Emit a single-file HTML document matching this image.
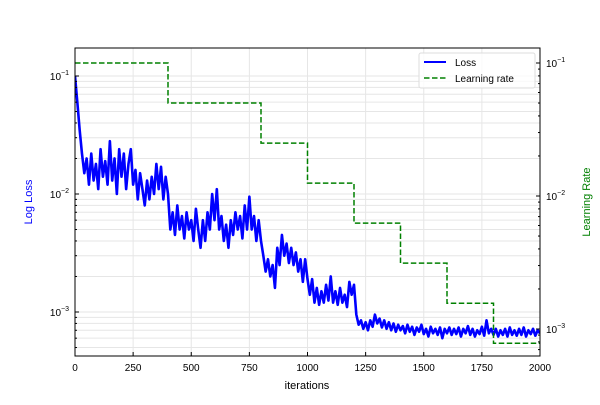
<!DOCTYPE html>
<html><head><meta charset="utf-8"><style>
body{margin:0;background:#fff;}
svg{font-family:"Liberation Sans","DejaVu Sans",sans-serif;}
</style></head><body>
<svg id="chart" width="600" height="400"></svg>
<script>
const iters=[];for(let i=0;i<=2000;i+=10)iters.push(i);
const lossE3=[100,60,35,22,15,20,12,22,13,18,11,24,14,19,12,28,13,20,10,24,14,
22,11,18,24,12,16,9,15,11,8,13,9,14,10,18,11,17,9,14,10,
5,7,4.5,8,5,6.5,4.2,7,5,6,4,7.5,5,3.5,6,4,7,5,10,6,
11,5,6.5,4,5.5,3.5,6,4.5,7,5,6.5,4.2,8,5,9.5,5,6.5,4,6,4,
3,2.2,2.8,2,2.5,1.6,3.5,2.5,4.5,3,3.8,2.6,3.5,2.5,3.2,2.2,2.8,1.8,2.8,1.9,
1.4,1.9,1.2,1.6,1.15,1.5,1.2,1.7,1.25,2.0,1.2,1.5,1.15,1.6,1.2,1.4,1.1,1.8,1.4,1.7,
0.95,0.78,0.85,0.72,0.82,0.7,0.85,0.75,0.95,0.8,0.88,0.74,0.85,0.72,0.82,0.7,0.8,0.68,0.78,0.7,
0.76,0.66,0.78,0.68,0.75,0.64,0.74,0.68,0.78,0.65,0.72,0.62,0.75,0.66,0.72,0.64,0.74,0.6,0.72,0.66,
0.74,0.64,0.72,0.65,0.74,0.62,0.72,0.66,0.76,0.64,0.72,0.62,0.7,0.65,0.75,0.63,0.85,0.66,0.72,0.64,
0.72,0.62,0.7,0.64,0.72,0.62,0.74,0.64,0.7,0.63,0.72,0.64,0.74,0.62,0.7,0.65,0.72,0.63,0.7,0.66];
const lrSteps=[0,400,800,1000,1200,1400,1600,1800,2000];
const lrValues=[0.1,0.05,0.025,0.0125,0.00625,0.003125,0.0015625,0.00078125];
const xTicks=[0,250,500,750,1000,1250,1500,1750,2000];
const leftDecades=[-1,-2,-3];
const rightDecades=[-1,-2,-3];

const L=75,R=540,T=48,B=356;
const X=v=>L+(v/2000)*(R-L);
const YL=v=>76-(Math.log10(v)+1)*118;
const YR=v=>63-(Math.log10(v)+1)*133;
const svg=document.getElementById('chart');
const NS='http://www.w3.org/2000/svg';
function mk(tag,attrs,name,parent){const e=document.createElementNS(NS,tag);for(const k in attrs)e.setAttribute(k,attrs[k]);


(parent||svg).appendChild(e);return e;}
const clip=mk('clipPath',{id:'pc'},'plot-clip');mk('rect',{x:L,y:T,width:R-L,height:B-T},'clip-rect',clip);
for(let d=-4;d<=0;d++)for(let m=1;m<10;m++){const y=YL(m*Math.pow(10,d));if(y>T&&y<B)mk('line',{x1:L,x2:R,y1:y,y2:y,stroke:'#e6e6e6','stroke-width':1},'y-grid-line');}
xTicks.forEach(t=>mk('line',{x1:X(t),x2:X(t),y1:T,y2:B,stroke:'#e6e6e6','stroke-width':1},'x-grid-line'));
const g=mk('g',{'clip-path':'url(#pc)'},'series-group');
mk('polyline',{points:iters.map((t,i)=>X(t)+','+YL(lossE3[i]/1000)).join(' '),fill:'none',stroke:'#0000ff','stroke-width':2.6,'stroke-linejoin':'round'},'loss-line',g);
let pts=[];lrValues.forEach((v,i)=>{pts.push(X(lrSteps[i])+','+YR(v));pts.push(X(lrSteps[i+1])+','+YR(v));});
mk('polyline',{points:pts.join(' '),fill:'none',stroke:'#008000','stroke-width':1.5,'stroke-dasharray':'5.5,2.5'},'learning-rate-line',g);
mk('rect',{x:L,y:T,width:R-L,height:B-T,fill:'none',stroke:'#000','stroke-width':1},'plot-frame');
xTicks.forEach(t=>{mk('line',{x1:X(t),x2:X(t),y1:B,y2:B-4,stroke:'#000'},'x-tick');
const tx=mk('text',{x:X(t),y:B+15,'font-size':10,'text-anchor':'middle'},'x-tick-label');tx.textContent=t;});
leftDecades.forEach(d=>{const y=YL(Math.pow(10,d));mk('line',{x1:L,x2:L+4,y1:y,y2:y,stroke:'#000'},'left-major-tick');
const tx=mk('text',{x:L-6,y:y+4,'font-size':10,'text-anchor':'end'},'left-tick-label');tx.innerHTML='10<tspan dy="-5" font-size="7">−'+(-d)+'</tspan>';});
for(let d=-4;d<=0;d++)for(let m=2;m<10;m++){const y=YL(m*Math.pow(10,d));if(y>T&&y<B)mk('line',{x1:L,x2:L+2,y1:y,y2:y,stroke:'#000'},'left-minor-tick');}
rightDecades.forEach(d=>{const y=YR(Math.pow(10,d));mk('line',{x1:R,x2:R-4,y1:y,y2:y,stroke:'#000'},'right-major-tick');
const tx=mk('text',{x:R+6,y:y+4,'font-size':10},'right-tick-label');tx.innerHTML='10<tspan dy="-5" font-size="7">−'+(-d)+'</tspan>';});
for(let d=-4;d<=0;d++)for(let m=2;m<10;m++){const y=YR(m*Math.pow(10,d));if(y>T&&y<B)mk('line',{x1:R,x2:R-2,y1:y,y2:y,stroke:'#000'},'right-minor-tick');}
let t=mk('text',{x:307,y:389,'font-size':11,'text-anchor':'middle'},'x-axis-title');t.textContent='iterations';
t=mk('text',{x:32,y:202,'font-size':11,'text-anchor':'middle',fill:'#0000ff',transform:'rotate(-90 32 202)'},'left-axis-title');t.textContent='Log Loss';
t=mk('text',{x:590,y:202,'font-size':11,'text-anchor':'middle',fill:'#008000',transform:'rotate(-90 590 202)'},'right-axis-title');t.textContent='Learning Rate';
const lg=mk('g',{},'legend');
mk('rect',{x:419,y:53,width:116,height:35,fill:'#fff','fill-opacity':0.8,stroke:'#ddd',rx:2},'legend-box',lg);
mk('line',{x1:424,x2:446,y1:62,y2:62,stroke:'#0000ff','stroke-width':2},'legend-loss-swatch',lg);
t=mk('text',{x:455,y:66,'font-size':10},'legend-loss-label',lg);t.textContent='Loss';
mk('line',{x1:424,x2:446,y1:78,y2:78,stroke:'#008000','stroke-width':1.5,'stroke-dasharray':'5.5,2.5'},'legend-lr-swatch',lg);
t=mk('text',{x:455,y:82,'font-size':10},'legend-lr-label',lg);t.textContent='Learning rate';
</script>
</body></html>
